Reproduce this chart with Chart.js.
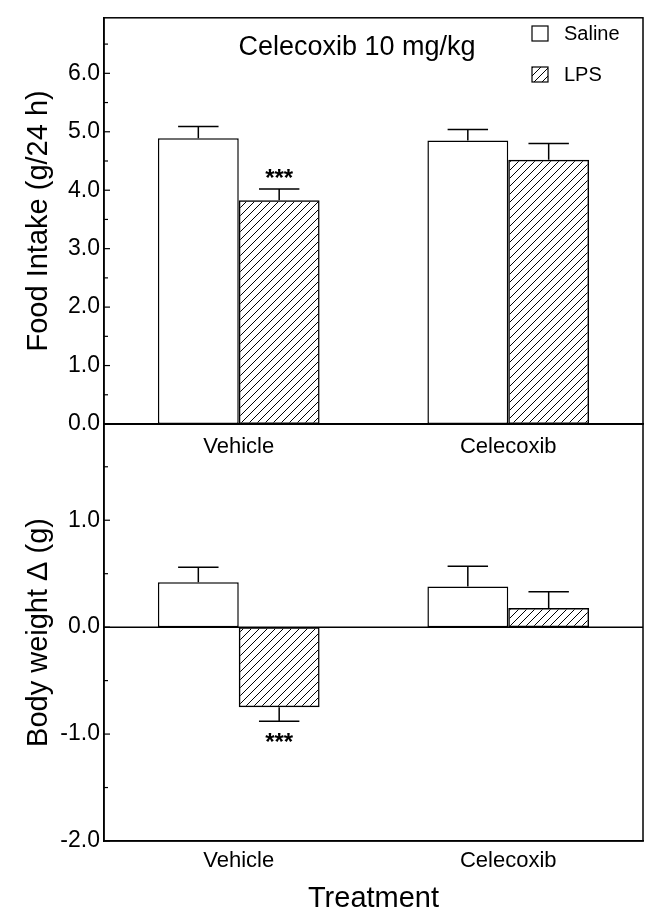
<!DOCTYPE html>
<html>
<head>
<meta charset="utf-8">
<script src="https://cdn.jsdelivr.net/npm/chart.js@4.4.1/dist/chart.umd.min.js"></script>
<style>
  html, body { margin: 0; padding: 0; background: #fff; }
  #wrap { position: relative; width: 647px; height: 916px; }
  #wrap canvas { position: absolute; left: 0; }
  #topChart { top: 0; z-index: 2; }
  #botChart { top: 400px; z-index: 1; }
</style>
</head>
<body>
<div id="wrap">
  <canvas id="botChart" width="647" height="516"></canvas>
  <canvas id="topChart" width="647" height="470"></canvas>
</div>
<script>
// data
const groups = ['Vehicle', 'Celecoxib'];
const seriesNames = ['Saline', 'LPS'];

const foodSaline = [4.89, 4.85];
const foodSalineErr = [0.20, 0.19];
const foodLps = [3.83, 4.52];
const foodLpsErr = [0.19, 0.28];
const foodLpsSig = ['***', ''];

const bwSaline = [0.42, 0.38];
const bwSalineErr = [0.14, 0.19];
const bwLps = [-0.75, 0.18];
const bwLpsErr = [0.13, 0.15];
const bwLpsSig = ['***', ''];

const FONT = "'Liberation Sans', Arial, Helvetica, sans-serif";
Chart.defaults.font.family = FONT;
Chart.defaults.color = '#000';

function makeHatch(ctx) {
  const n = 8;
  const c = document.createElement('canvas');
  c.width = n; c.height = n;
  const g = c.getContext('2d');
  g.strokeStyle = '#000';
  g.lineWidth = 1;
  g.beginPath();
  g.moveTo(0, n); g.lineTo(n, 0);
  g.moveTo(-1, 1); g.lineTo(1, -1);
  g.moveTo(n - 1, n + 1); g.lineTo(n + 1, n - 1);
  g.stroke();
  return ctx.createPattern(c, 'repeat');
}

function yAxis(min, max, title) {
  return {
    min: min,
    max: max,
    ticks: {
      stepSize: 0.5,
      autoSkip: false,
      padding: 4,
      font: { size: 23 },
      color: '#000',
      callback: v => Number.isInteger(v) ? v.toFixed(1) : ''
    },
    grid: { display: false, drawTicks: false },
    border: { display: true, color: '#000', width: 1.5 },
    title: { display: true, text: title, font: { size: 29 }, color: '#000', padding: { top: 22, bottom: 0 } },
    afterFit: s => { s.width = 104; }
  };
}

// box, zero line and the small inward ticks
const framePlugin = {
  id: 'frame',
  afterDatasetsDraw(chart) {
    const { ctx, chartArea: a, scales: { y } } = chart;
    ctx.save();
    ctx.strokeStyle = '#000';
    ctx.lineWidth = 1.5;
    ctx.strokeRect(a.left, a.top, a.right - a.left, a.bottom - a.top);
    const z = y.getPixelForValue(0);
    ctx.beginPath();
    ctx.moveTo(a.left, z);
    ctx.lineTo(a.right, z);
    ctx.stroke();
    ctx.lineWidth = 1.2;
    y.ticks.forEach(t => {
      if (Math.abs(t.value * 2 - Math.round(t.value * 2)) > 1e-9) return;
      const py = y.getPixelForValue(t.value);
      const len = Number.isInteger(t.value) ? 6 : 4;
      ctx.beginPath();
      ctx.moveTo(a.left, py);
      ctx.lineTo(a.left + len, py);
      ctx.stroke();
    });
    ctx.restore();
  }
};

// one-sided error bars plus significance stars
const errorPlugin = {
  id: 'errbars',
  afterDatasetsDraw(chart) {
    const { ctx, scales: { y } } = chart;
    ctx.save();
    ctx.strokeStyle = '#000';
    ctx.lineWidth = 1.5;
    chart.data.datasets.forEach((ds, i) => {
      const meta = chart.getDatasetMeta(i);
      meta.data.forEach((bar, j) => {
        const v = ds.data[j];
        const dir = v < 0 ? -1 : 1;
        const yEnd = y.getPixelForValue(v + dir * ds.errors[j]);
        const half = bar.width / 4;
        ctx.beginPath();
        ctx.moveTo(bar.x, bar.y);
        ctx.lineTo(bar.x, yEnd);
        ctx.moveTo(bar.x - half, yEnd);
        ctx.lineTo(bar.x + half, yEnd);
        ctx.stroke();
        if (ds.sig && ds.sig[j]) {
          ctx.fillStyle = '#000';
          ctx.font = 'bold 24px ' + FONT;
          ctx.textAlign = 'center';
          ctx.textBaseline = 'alphabetic';
          const ty = dir > 0 ? yEnd - 3 : yEnd + 29;
          ctx.fillText(ds.sig[j], bar.x, ty);
        }
      });
    });
    ctx.restore();
  }
};

// in-plot title and legend of the upper panel
const headPlugin = {
  id: 'head',
  afterDraw(chart) {
    const { ctx } = chart;
    ctx.save();
    ctx.fillStyle = '#000';
    ctx.font = '27px ' + FONT;
    ctx.textAlign = 'center';
    ctx.textBaseline = 'alphabetic';
    ctx.fillText('Celecoxib 10 mg/kg', 357, 55);
    ctx.font = '20px ' + FONT;
    ctx.textAlign = 'left';
    ctx.textBaseline = 'middle';
    chart.data.datasets.forEach((ds, i) => {
      const by = 26 + i * 41;
      ctx.fillStyle = ds.backgroundColor;
      ctx.fillRect(532, by, 16, 15);
      ctx.strokeStyle = '#000';
      ctx.lineWidth = 1.2;
      ctx.strokeRect(532, by, 16, 15);
      ctx.fillStyle = '#000';
      ctx.fillText(ds.label, 564, by + 8);
    });
    ctx.restore();
  }
};

function barSet(label, data, errors, fill, sig) {
  return {
    label: label,
    data: data,
    errors: errors,
    sig: sig,
    backgroundColor: fill,
    borderColor: '#000',
    borderWidth: 1.5,
    borderSkipped: false,
    categoryPercentage: 0.6,
    barPercentage: 1.0
  };
}

const topCtx = document.getElementById('topChart').getContext('2d');
const botCtx = document.getElementById('botChart').getContext('2d');

new Chart(topCtx, {
  type: 'bar',
  data: {
    labels: groups,
    datasets: [
      barSet(seriesNames[0], foodSaline, foodSalineErr, '#fff'),
      barSet(seriesNames[1], foodLps, foodLpsErr, makeHatch(topCtx), foodLpsSig)
    ]
  },
  options: {
    responsive: false,
    animation: false,
    layout: { padding: { top: 9, right: 4, left: 0, bottom: 0 } },
    plugins: { legend: { display: false }, tooltip: { enabled: false } },
    scales: {
      x: {
        ticks: { font: { size: 22 }, color: '#000', padding: 10 },
        grid: { display: false, drawTicks: false },
        border: { color: '#000', width: 1.5 },
        afterFit: s => { s.height = 46; }
      },
      y: yAxis(0, 6.95, 'Food Intake (g/24 h)')
    }
  },
  plugins: [framePlugin, errorPlugin, headPlugin]
});

new Chart(botCtx, {
  type: 'bar',
  data: {
    labels: groups,
    datasets: [
      barSet(seriesNames[0], bwSaline, bwSalineErr, '#fff'),
      barSet(seriesNames[1], bwLps, bwLpsErr, makeHatch(botCtx), bwLpsSig)
    ]
  },
  options: {
    responsive: false,
    animation: false,
    layout: { padding: { top: 24, right: 4, left: 0, bottom: 0 } },
    plugins: { legend: { display: false }, tooltip: { enabled: false } },
    scales: {
      x: {
        ticks: { font: { size: 22 }, color: '#000', padding: 7 },
        grid: { display: false, drawTicks: false },
        border: { color: '#000', width: 1.5 },
        title: { display: true, text: 'Treatment', font: { size: 29 }, color: '#000', padding: { top: 8, bottom: 0 } },
        afterFit: s => { s.height = 75; }
      },
      y: yAxis(-2.0, 1.9, 'Body weight \u0394 (g)')
    }
  },
  plugins: [framePlugin, errorPlugin]
});
</script>
</body>
</html>
